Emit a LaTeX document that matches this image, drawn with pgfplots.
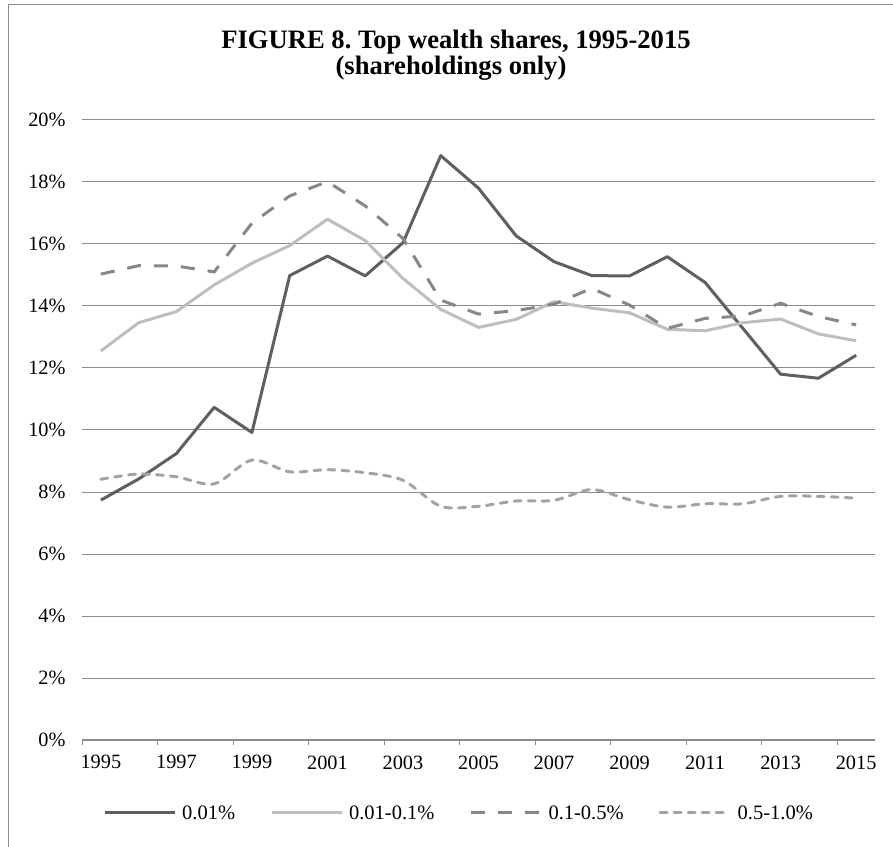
\documentclass[border=0pt]{standalone}
\usepackage{fontspec}
\setmainfont{Liberation Serif}
\usepackage{pgfplots}
\pgfplotsset{compat=1.18}
\definecolor{cA}{HTML}{5F5F5F}
\definecolor{cB}{HTML}{BEBEBE}
\definecolor{cC}{HTML}{878787}
\definecolor{cD}{HTML}{A3A3A3}
\definecolor{gridc}{HTML}{8C8C8C}
\frenchspacing
\begin{document}
\begin{tikzpicture}[x=1pt,y=1pt]
\useasboundingbox (0,0) rectangle (893,846);
\draw[gridc, line width=1.3pt] (8.3,-20) -- (8.3,841.5) -- (920,841.5);
\node[font=\bfseries\fontsize{26.6}{26}\selectfont, anchor=base, inner sep=0] at (456,797) {FIGURE 8. Top wealth shares, 1995-2015};
\node[font=\bfseries\fontsize{26.6}{26}\selectfont, anchor=base, inner sep=0] at (451,771) {(shareholdings only)};
\begin{axis}[
  at={(82pt,106pt)}, anchor=south west,
  scale only axis, width=793pt, height=620pt,
  xmin=1994.5, xmax=2015.5, ymin=0, ymax=20,
  axis x line*=bottom, axis y line*=left,
  y axis line style={draw=none},
  x axis line style={gridc, line width=1.3pt, -},
  xtick={1995,1997,1999,2001,2003,2005,2007,2009,2011,2013,2015},
  xticklabels={1995,1997,1999,2001,2003,2005,2007,2009,2011,2013,2015},
  minor xtick={1994.5,1996.5,1998.5,2000.5,2002.5,2004.5,2006.5,2008.5,2010.5,2012.5,2014.5},
  ytick={0,2,4,6,8,10,12,14,16,18,20},
  yticklabels={0\%,2\%,4\%,6\%,8\%,10\%,12\%,14\%,16\%,18\%,20\%},
  major tick length=0pt, minor tick length=5pt, tick align=outside,
  minor tick style={gridc, line width=1pt},
  ymajorgrids=true,
  major grid style={gridc, line width=1pt},
  ticklabel style={font=\fontsize{20.3}{24}\selectfont},
  xticklabel style={yshift=-12pt},
  yticklabel style={xshift=-13pt},
  legend columns=4,
  legend style={at={(axis description cs:0.4754,-0.1177)}, anchor=center, draw=none, fill=none,
    font=\fontsize{20.5}{24}\selectfont,
    /tikz/every odd column/.append style={column sep=4pt},
    /tikz/every even column/.append style={column sep=33pt}},
  legend image code/.code={\draw[#1] (0pt,0pt) -- (70pt,0pt);},
]
\addplot[cA, line width=3pt, line join=round] coordinates {
(1995,7.74) (1996,8.42) (1997,9.24) (1998,10.73) (1999,9.92) (2000,14.98) (2001,15.61) (2002,14.97) (2003,16.04) (2004,18.85) (2005,17.80) (2006,16.26) (2007,15.43) (2008,14.98) (2009,14.97) (2010,15.59) (2011,14.76) (2012,13.28) (2013,11.80) (2014,11.67) (2015,12.41)};
\addlegendentry{0.01\%}
\addplot[cB, line width=3pt, line join=round] coordinates {
(1995,12.55) (1996,13.46) (1997,13.82) (1998,14.68) (1999,15.38) (2000,15.95) (2001,16.80) (2002,16.11) (2003,14.89) (2004,13.89) (2005,13.31) (2006,13.57) (2007,14.14) (2008,13.93) (2009,13.78) (2010,13.25) (2011,13.20) (2012,13.46) (2013,13.58) (2014,13.10) (2015,12.88)};
\addlegendentry{0.01-0.1\%}
\addplot[cC, line width=3pt, dash pattern=on 14pt off 13pt] coordinates {
(1995,15.03) (1996,15.30) (1997,15.29) (1998,15.10) (1999,16.67) (2000,17.55) (2001,18.01) (2002,17.23) (2003,16.18) (2004,14.19) (2005,13.74) (2006,13.85) (2007,14.06) (2008,14.57) (2009,14.03) (2010,13.28) (2011,13.60) (2012,13.68) (2013,14.09) (2014,13.66) (2015,13.39)};
\addlegendentry{0.1-0.5\%}
\addplot[cD, line width=3pt, dash pattern=on 7pt off 7pt, line cap=round, smooth, tension=0.5] coordinates {
(1995,8.41) (1996,8.58) (1997,8.49) (1998,8.26) (1999,9.03) (2000,8.65) (2001,8.72) (2002,8.62) (2003,8.38) (2004,7.54) (2005,7.54) (2006,7.71) (2007,7.73) (2008,8.08) (2009,7.75) (2010,7.51) (2011,7.62) (2012,7.62) (2013,7.86) (2014,7.86) (2015,7.80)};
\addlegendentry{0.5-1.0\%}
\end{axis}
\end{tikzpicture}
\end{document}
